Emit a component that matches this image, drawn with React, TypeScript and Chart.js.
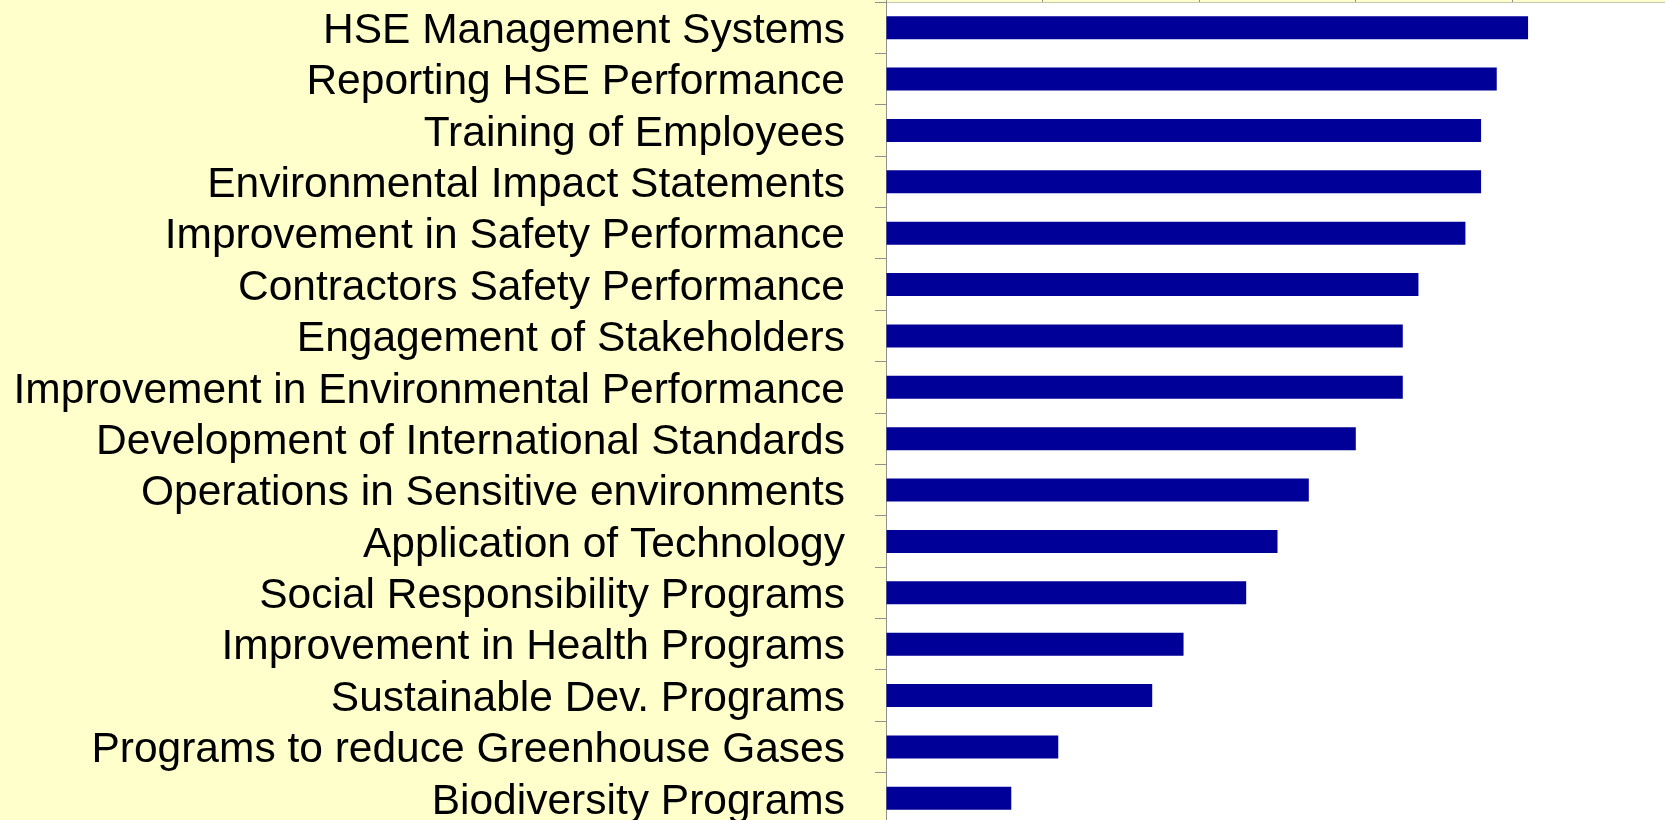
import React, { useEffect, useRef } from "react";
import { Chart, registerables } from "chart.js";

Chart.register(...registerables);

const categories = [
  "HSE Management Systems",
  "Reporting HSE Performance",
  "Training of Employees",
  "Environmental Impact Statements",
  "Improvement in Safety Performance",
  "Contractors Safety Performance",
  "Engagement of Stakeholders",
  "Improvement in Environmental Performance",
  "Development of International Standards",
  "Operations in Sensitive environments",
  "Application of Technology",
  "Social Responsibility Programs",
  "Improvement in Health Programs",
  "Sustainable Dev. Programs",
  "Programs to reduce Greenhouse Gases",
  "Biodiversity Programs",
];

const values = [4.1, 3.9, 3.8, 3.8, 3.7, 3.4, 3.3, 3.3, 3.0, 2.7, 2.5, 2.3, 1.9, 1.7, 1.1, 0.8];

const xTicks = [0, 1, 2, 3, 4, 5];

const plotBg = {
  id: "plotBg",
  beforeDraw(chart: any) {
    const { ctx, chartArea, width, height } = chart;
    ctx.save();
    ctx.fillStyle = "#FFFFCC";
    ctx.fillRect(0, 0, width, height);
    ctx.fillStyle = "#FFFFFF";
    ctx.fillRect(chartArea.left, chartArea.top, chartArea.right - chartArea.left, chartArea.bottom - chartArea.top);
    ctx.restore();
  },
};

export default function App() {
  const ref = useRef<HTMLCanvasElement>(null);

  useEffect(() => {
    document.documentElement.style.overflow = "hidden";
    document.body.style.margin = "0";
    document.body.style.overflow = "hidden";
    if (!ref.current) return;
    const chart = new Chart(ref.current, {
      type: "bar",
      data: {
        labels: categories,
        datasets: [
          {
            data: values,
            backgroundColor: "#000099",
            borderWidth: 0,
            categoryPercentage: 1,
            barPercentage: 0.45,
          },
        ],
      },
      options: {
        indexAxis: "y",
        animation: false,
        responsive: true,
        maintainAspectRatio: false,
        layout: { padding: 0 },
        plugins: {
          legend: { display: false },
          tooltip: { enabled: false },
          title: { display: false },
        },
        scales: {
          x: {
            position: "top",
            min: 0,
            max: 5,
            afterBuildTicks: (scale: any) => {
              scale.ticks = xTicks.map((v) => ({ value: v }));
            },
            afterFit: (scale: any) => {
              scale.height = 2;
              scale.paddingLeft = 0;
              scale.paddingRight = 0;
            },
            ticks: { display: false },
            grid: {
              drawOnChartArea: false,
              drawTicks: true,
              tickLength: 6,
              color: "#909090",
            },
            border: { display: true, color: "#C8C8B0", width: 1 },
          },
          y: {
            afterFit: (scale: any) => {
              scale.width = 886;
              scale.paddingTop = 0;
              scale.paddingBottom = 0;
            },
            ticks: {
              autoSkip: false,
              color: "#000000",
              padding: 30,
              callback: (_v: any, i: number) => ["", categories[i]],
              font: { family: "'Liberation Sans', Arial, sans-serif", size: 42.5, lineHeight: "7px" },
            },
            grid: {
              drawOnChartArea: false,
              drawTicks: true,
              tickLength: 11,
              color: "#909090",
              offset: true,
            },
            border: { display: true, color: "#909090", width: 1 },
          },
        },
      },
      plugins: [plotBg],
    });
    return () => chart.destroy();
  }, []);

  return (
    <div style={{ position: "relative", width: 1669, height: 824 }}>
      <canvas ref={ref} />
    </div>
  );
}
